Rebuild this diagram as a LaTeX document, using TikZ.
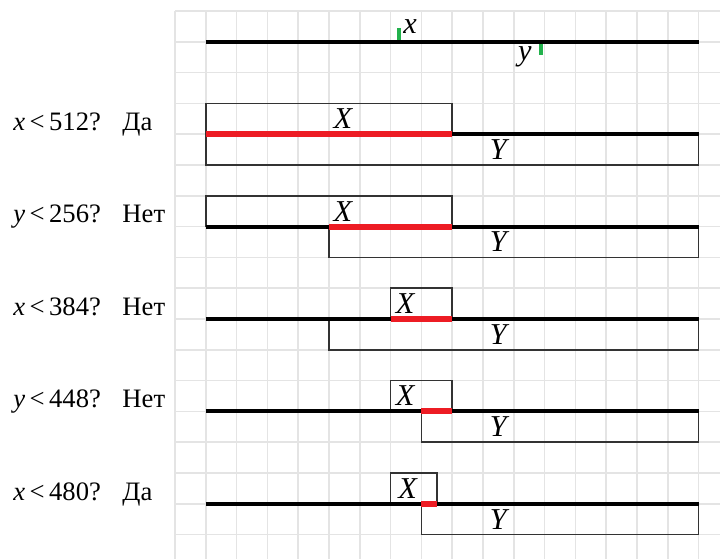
\documentclass[tikz,border=0pt]{standalone}
\usepackage{fontspec}
\setmainfont{Liberation Serif}

\definecolor{gridgray}{RGB}{228,228,228}
\definecolor{segred}{RGB}{237,28,36}
\definecolor{tickgreen}{RGB}{34,177,76}

\begin{document}
\begin{tikzpicture}[
        x=0.5cm, y=0.5cm,
        gridline/.style={draw=gridgray, line width=0.8pt},
        axisline/.style={black, line width=1.9pt},
        redseg/.style={segred, line width=2.8pt},
        rangebox/.style={draw=black!80, line width=0.8pt},
        greentick/.style={tickgreen, line width=1.8pt},
        varlabel/.style={font=\fontsize{14}{16}\selectfont\itshape, inner sep=0pt},
        asklabel/.style={anchor=base west, inner sep=0pt, font=\fontsize{12.3}{14}\selectfont}
    ]

    \useasboundingbox (-5.682,0.357) rectangle (17.695,-17.792);

    % squared paper
    \draw[gridline, step=0.5cm] (0,-17.792) grid (17.695,0);

    % ==========================================
    % TOP: the whole line with points x and y
    % ==========================================
    \begin{scope}[yshift=-0.5cm]
        \draw[axisline] (1,0) -- (17,0);
        \draw[greentick] (7.27,0.45) -- (7.27,0.06);
        \draw[greentick] (11.88,-0.06) -- (11.88,-0.43);
        \node[varlabel] (px) at (7.63,0.48) {x};
        \node[varlabel] (py) at (11.36,-0.49) {y};
    \end{scope}

    % ==========================================
    % ROW 1: x<512
    % ==========================================
    \begin{scope}[yshift=-2cm]
        \draw[rangebox] (1,0) rectangle (9,1);   % X
        \draw[rangebox] (1,0) rectangle (17,-1); % Y
        \draw[axisline] (1,0) -- (17,0);
        \draw[redseg] (1,0) -- (9,0);
        \node[varlabel] (bx1) at (5.45,0.5) {X};
        \node[varlabel] (by1) at (10.5,-0.5) {Y};
        \node[asklabel] (q1) at (-5.26,0.12) {\textit{x}\,<\,512?};
        \node[asklabel] (a1) at (-1.72,0.12) {Да};
    \end{scope}

    % ==========================================
    % ROW 2: y<256
    % ==========================================
    \begin{scope}[yshift=-3.5cm]
        \draw[rangebox] (1,0) rectangle (9,1);
        \draw[rangebox] (5,0) rectangle (17,-1);
        \draw[axisline] (1,0) -- (17,0);
        \draw[redseg] (5,0) -- (9,0);
        \node[varlabel] (bx2) at (5.45,0.5) {X};
        \node[varlabel] (by2) at (10.5,-0.5) {Y};
        \node[asklabel] (q2) at (-5.26,0.12) {\textit{y}\,<\,256?};
        \node[asklabel] (a2) at (-1.72,0.12) {Нет};
    \end{scope}

    % ==========================================
    % ROW 3: x<384
    % ==========================================
    \begin{scope}[yshift=-5cm]
        \draw[rangebox] (7,0) rectangle (9,1);
        \draw[rangebox] (5,0) rectangle (17,-1);
        \draw[axisline] (1,0) -- (17,0);
        \draw[redseg] (7,0) -- (9,0);
        \node[varlabel] (bx3) at (7.47,0.5) {X};
        \node[varlabel] (by3) at (10.5,-0.5) {Y};
        \node[asklabel] (q3) at (-5.26,0.12) {\textit{x}\,<\,384?};
        \node[asklabel] (a3) at (-1.72,0.12) {Нет};
    \end{scope}

    % ==========================================
    % ROW 4: y<448
    % ==========================================
    \begin{scope}[yshift=-6.5cm]
        \draw[rangebox] (7,0) rectangle (9,1);
        \draw[rangebox] (8,0) rectangle (17,-1);
        \draw[axisline] (1,0) -- (17,0);
        \draw[redseg] (8,0) -- (9,0);
        \node[varlabel] (bx4) at (7.47,0.5) {X};
        \node[varlabel] (by4) at (10.5,-0.5) {Y};
        \node[asklabel] (q4) at (-5.26,0.12) {\textit{y}\,<\,448?};
        \node[asklabel] (a4) at (-1.72,0.12) {Нет};
    \end{scope}

    % ==========================================
    % ROW 5: x<480
    % ==========================================
    \begin{scope}[yshift=-8cm]
        \draw[rangebox] (7,0) rectangle (8.5,1);
        \draw[rangebox] (8,0) rectangle (17,-1);
        \draw[axisline] (1,0) -- (17,0);
        \draw[redseg] (8,0) -- (8.5,0);
        \node[varlabel] (bx5) at (7.55,0.5) {X};
        \node[varlabel] (by5) at (10.5,-0.5) {Y};
        \node[asklabel] (q5) at (-5.26,0.12) {\textit{x}\,<\,480?};
        \node[asklabel] (a5) at (-1.72,0.12) {Да};
    \end{scope}

\end{tikzpicture}
\end{document}
